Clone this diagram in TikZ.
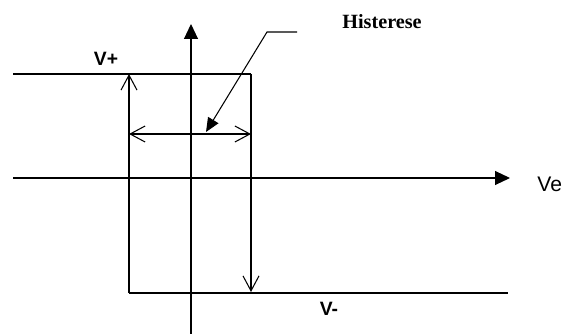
\documentclass[tikz,border=0pt]{standalone}
\usepackage{fontspec}
\setmainfont{Liberation Serif}
\setsansfont{Liberation Sans}
\usepackage{tikz}
\usetikzlibrary{arrows.meta,positioning}
\tikzset{
  eixo/.style={line width=0.6pt, -{Triangle[length=0.3cm,width=0.28cm]}},
  linha/.style={line width=0.6pt},
  seta/.style={line width=0.6pt, -{Straight Barb[length=0.3cm,width=0.32cm]}},
  setadupla/.style={line width=0.6pt, {Straight Barb[length=0.3cm,width=0.32cm]}-{Straight Barb[length=0.3cm,width=0.32cm]}},
  rotulo/.style={font=\sffamily\bfseries\fontsize{11}{13}\selectfont, inner sep=0pt}
}

\begin{document}
\begin{tikzpicture}[x=0.02cm, y=-0.02cm]
\useasboundingbox (0,0) rectangle (567,334);
% eixos
\coordinate (xl) at (13,178);
\coordinate (xr) at (510,178);
\coordinate (yb) at (191,334);
\coordinate (yt) at (191,24);
\draw[eixo] (xl) -- (xr);
\draw[eixo] (yb) -- (yt);
\node[anchor=west, inner sep=0pt, font=\sffamily\fontsize{12}{14}\selectfont] (ve) at (537,184) {Ve};
% ciclo de histerese
\coordinate (sa) at (13,74);
\coordinate (sb) at (251,74);
\coordinate (sc) at (251,292);
\coordinate (ia) at (129,74);
\coordinate (ib) at (129,293);
\coordinate (ic) at (508,293);
\draw[linha] (sa) -- (sb);
\draw[seta] (sb) -- (sc);
\draw[seta] (ib) -- (ia);
\draw[linha] (ib) -- (ic);
\coordinate (ha) at (129,134);
\coordinate (hb) at (251,134);
\draw[setadupla] (ha) -- (hb);
\node[rotulo] (vmais) at (106,59) {V+};
\node[rotulo] (vmenos) at (329,309) {V-};
% indicacao
\node[font=\rmfamily\bfseries\fontsize{11.5}{13}\selectfont, inner sep=0pt] (hist) at (382,22) {Histerese};
\coordinate (pa) at (297,32);
\coordinate (pb) at (267,32);
\coordinate (pc) at (206,132);
\draw[line width=0.6pt, -{Triangle[length=0.28cm,width=0.24cm]}] (pa) -- (pb) -- (pc);
\end{tikzpicture}
\end{document}
